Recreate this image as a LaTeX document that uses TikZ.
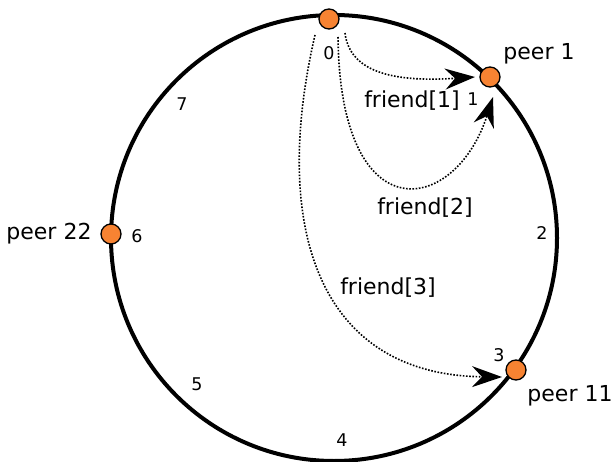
\documentclass[tikz,border=0pt]{standalone}
\usepackage{fontspec}
\setmainfont{DejaVu Sans}
\usetikzlibrary{arrows.meta,calc}
\definecolor{peerorange}{RGB}{247,131,50}
\begin{document}
\begin{tikzpicture}[x=1pt,y=-1pt,
  peer/.style={circle,draw=black,line width=1.3pt,fill=peerorange,minimum size=20pt,inner sep=0pt},
  slot/.style={font=\fontsize{17.5}{20}\selectfont,inner sep=0pt},
  lbl/.style={font=\fontsize{22}{26}\selectfont,inner sep=0pt},
  finger/.style={line width=1.6pt,dash pattern=on 1.6pt off 1.6pt,
    -{Stealth[length=30pt,width=21pt,inset=10pt]}}]
\useasboundingbox (0,0) rectangle (615,462);

% the identifier ring
\draw[line width=4pt] (334,238) circle[radius=223pt];

% peers sitting on the ring
\node[peer] (n0)  at (329,19)  {};
\node[peer] (p1)  at (490,77)  {};
\node[peer] (p11) at (516,370) {};
\node[peer] (p22) at (111,234) {};

% slot numbers
\node[slot] (s0) at (329,53)  {0};
\node[slot] (s1) at (473,99)  {1};
\node[slot] (s2) at (542,233) {2};
\node[slot] (s3) at (499,355) {3};
\node[slot] (s4) at (342,440) {4};
\node[slot] (s5) at (197,384) {5};
\node[slot] (s6) at (137,236) {6};
\node[slot] (s7) at (182,104) {7};

% peer names
\node[lbl] (l1)  at (539,54)  {peer 1};
\node[lbl] (l11) at (570,396) {peer 11};
\node[lbl] (l22) at (49,234)  {peer 22};

% friend pointers
\node[lbl] (f1) at (412,101) {friend[1]};
\node[lbl] (f2) at (425,208) {friend[2]};
\node[lbl] (f3) at (388,288) {friend[3]};

\draw[finger] ($(n0)+(16,14)$) .. controls (350,75) and (400,82) .. ($(p1)+(-15,0)$);
\draw[finger] ($(n0)+(9,18)$) .. controls (340,235) and (455,215) .. ($(p1)+(3,20)$);
\draw[finger] ($(n0)+(-14,16)$) .. controls (270,230) and (320,375) .. ($(p11)+(-14,7)$);
\end{tikzpicture}
\end{document}
